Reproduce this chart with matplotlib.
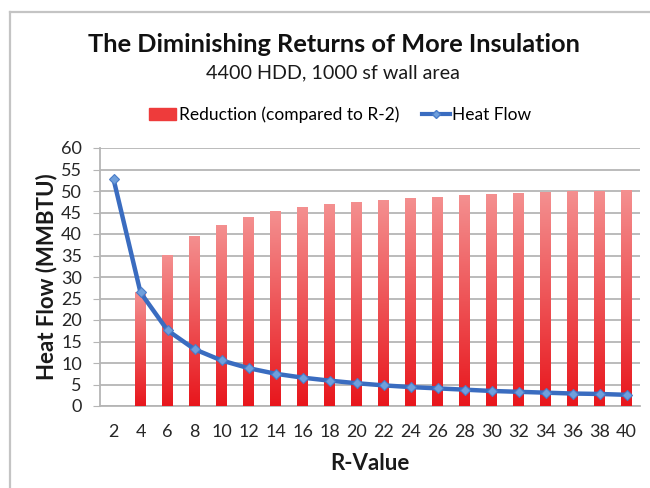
import matplotlib
matplotlib.use("Agg")
import matplotlib.pyplot as plt
import numpy as np
from matplotlib.patches import Rectangle
from matplotlib.lines import Line2D
from matplotlib.colors import LinearSegmentedColormap

r_values = [2, 4, 6, 8, 10, 12, 14, 16, 18, 20, 22, 24, 26, 28, 30, 32, 34, 36, 38, 40]
reduction = [0, 26.4, 35.2, 39.6, 42.2, 44.0, 45.3, 46.2, 46.9, 47.5, 48.0, 48.4,
             48.7, 49.0, 49.3, 49.5, 49.7, 49.9, 50.0, 50.2]
heat_flow = [52.8, 26.4, 17.6, 13.2, 10.6, 8.8, 7.5, 6.6, 5.9, 5.3, 4.8, 4.4,
             4.1, 3.8, 3.5, 3.3, 3.1, 2.9, 2.8, 2.6]
y_ticks = list(range(0, 61, 5))

plt.rcParams['font.family'] = ['Lato', 'DejaVu Sans']

W, H = 650, 488
fig = plt.figure(figsize=(W / 100, H / 100), dpi=100)
fig.patch.set_facecolor('white')

# chart-area border (top and left edges visible)
fig.add_artist(Line2D([10 / W, 1.0], [1 - 12 / H, 1 - 12 / H], transform=fig.transFigure,
                      color='#c4c4c4', linewidth=1.6))
fig.add_artist(Line2D([10 / W, 10 / W], [0, 1 - 12 / H], transform=fig.transFigure,
                      color='#c4c4c4', linewidth=1.6))

ax = fig.add_axes([100 / W, 1 - 406 / H, 540 / W, (406 - 148) / H])
x = np.arange(len(r_values))

ax.set_xlim(-0.5, len(r_values) - 0.5)
ax.set_ylim(0, 60)
ax.set_yticks(y_ticks)
ax.grid(axis='y', color='#b5b5b5', linewidth=1.3, zorder=0)
ax.set_axisbelow(True)

bars = ax.bar(x, reduction, width=0.4, color='#ee3b3b', zorder=2, linewidth=0)
grad = np.linspace(0, 1, 256).reshape(-1, 1)
cmap = LinearSegmentedColormap.from_list('rg', ['#e8161c', '#f49090'])
for b, v in zip(bars, reduction):
    if v <= 0:
        continue
    x0 = b.get_x()
    im = ax.imshow(grad, cmap=cmap, origin='lower', aspect='auto',
                   extent=[x0, x0 + b.get_width(), 0, v], zorder=3)
    im.set_clip_path(b)

ax.plot(x, heat_flow, color='#3a6cc0', linewidth=3.2, zorder=5,
        marker='D', markersize=5.5, markerfacecolor='#6f9fdc', markeredgecolor='#4a7cc8',
        markeredgewidth=0.8)

ax.set_xticks(x)
ax.set_xticklabels([str(v) for v in r_values])
for s in ['top', 'right']:
    ax.spines[s].set_visible(False)
for s in ['left', 'bottom']:
    ax.spines[s].set_color('#b5b5b5')
    ax.spines[s].set_linewidth(1.3)
ax.tick_params(axis='y', length=5, color='#b5b5b5', labelsize=13, labelcolor='#262626', pad=8)
ax.tick_params(axis='x', length=0, labelsize=13, labelcolor='#262626', pad=13)

ax.set_ylabel('Heat Flow (MMBTU)', fontsize=16, fontweight='bold', color='#1a1a1a')
ax.yaxis.set_label_coords((57 - 100) / 540, 0.5)
ax.set_xlabel('R-Value', fontsize=16, fontweight='bold', color='#1a1a1a', labelpad=9)

fig.text(334 / W, 1 - 44 / H, 'The Diminishing Returns of More Insulation', ha='center', va='center',
         fontsize=18.3, fontweight='bold', color='#111111')
fig.text(333 / W, 1 - 73 / H, '4400 HDD, 1000 sf wall area', ha='center', va='center',
         fontsize=14.2, color='#1a1a1a')

handles = [Rectangle((0, 0), 1, 1, color='#ee3b3b'),
           Line2D([0], [0], color='#3a6cc0', linewidth=3, marker='D', markersize=4.5,
                  markerfacecolor='#6f9fdc', markeredgecolor='#4a7cc8')]
fig.legend(handles, ['Reduction (compared to R-2)', 'Heat Flow'], loc='center',
           bbox_to_anchor=(340 / W, 1 - 115 / H), ncol=2, frameon=False, fontsize=12.5,
           handlelength=1.6, handletextpad=0.15, columnspacing=1.3)

fig.savefig('out.png', dpi=100, facecolor='white')
